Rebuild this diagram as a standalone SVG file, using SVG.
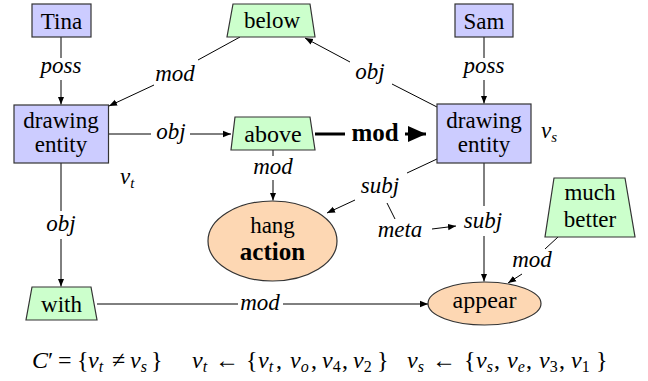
<svg xmlns="http://www.w3.org/2000/svg" width="648" height="381" viewBox="0 0 648 381">
<defs>
<style>
.box{fill:#ccccff;stroke:#333;stroke-width:1.2}
.trap{fill:#ccffcc;stroke:#333;stroke-width:1.2}
.ell{fill:#fdd7b3;stroke:#333;stroke-width:1.2}
.e{fill:none;stroke:#000;stroke-width:1}
.a{marker-end:url(#ar)}
.th{fill:none;stroke:#000;stroke-width:3}
</style>
<marker id="ar" viewBox="0 0 10 10" refX="10" refY="5" markerWidth="8" markerHeight="8" markerUnits="userSpaceOnUse" orient="auto"><path d="M0,1 L10,5 L0,9 z" fill="#000"/></marker>
<marker id="ar2" viewBox="0 0 10 10" refX="10" refY="5" markerWidth="6" markerHeight="6" orient="auto"><path d="M0,0.5 L10,5 L0,9.5 z" fill="#000"/></marker>
</defs>
<rect width="648" height="381" fill="#fff"/>
<g id="connectors">
<line class="e" x1="61" y1="37" x2="61" y2="58"/>
<line class="e a" x1="61" y1="80" x2="61" y2="104.5"/>
<line class="e" x1="484" y1="37" x2="484" y2="58"/>
<line class="e a" x1="484" y1="80" x2="484" y2="103.5"/>
<line class="e" x1="108.5" y1="134" x2="151" y2="134"/>
<line class="e a" x1="190" y1="134" x2="231" y2="134"/>
<line class="th" x1="315" y1="134" x2="345" y2="134"/>
<line class="th" x1="405" y1="134" x2="426" y2="134" marker-end="url(#ar2)"/>
<line class="e" x1="240" y1="37" x2="198" y2="60"/>
<line class="e a" x1="154" y1="85" x2="109" y2="106"/>
<line class="e" x1="437" y1="107" x2="392" y2="84"/>
<line class="e a" x1="350" y1="62" x2="305" y2="38"/>
<line class="e" x1="273" y1="150" x2="273" y2="156"/>
<line class="e a" x1="273" y1="180" x2="273" y2="200.5"/>
<line class="e" x1="61" y1="163" x2="61" y2="211"/>
<line class="e a" x1="61" y1="239" x2="61" y2="286.5"/>
<line class="e" x1="97" y1="304" x2="238" y2="304"/>
<line class="e a" x1="283" y1="304" x2="428" y2="304"/>
<line class="e" x1="484" y1="163" x2="484" y2="206"/>
<line class="e a" x1="484" y1="236" x2="484" y2="281.5"/>
<line class="e" x1="437" y1="159" x2="407" y2="173"/>
<line class="e a" x1="355" y1="200" x2="327" y2="213"/>
<line class="e" x1="387" y1="203" x2="395" y2="219"/>
<line class="e a" x1="432" y1="229" x2="456" y2="226"/>
<line class="e" x1="558" y1="237" x2="545" y2="249"/>
<line class="e a" x1="522" y1="274" x2="508" y2="283"/>
<g font-family="'Liberation Serif', serif" font-style="italic" font-size="23" text-anchor="middle" fill="#000">
<text x="61" y="73">poss</text>
<text x="484" y="73">poss</text>
<text x="171" y="139">obj</text>
<text x="175" y="81">mod</text>
<text x="370" y="79">obj</text>
<text x="273" y="174">mod</text>
<text x="61" y="231">obj</text>
<text x="260" y="310">mod</text>
<text x="483" y="228">subj</text>
<text x="380" y="193">subj</text>
<text x="400" y="237">meta</text>
<text x="532" y="267">mod</text>
<text x="120" y="184" text-anchor="start">v<tspan font-size="15" dy="4">t</tspan></text>
<text x="541" y="138" text-anchor="start">v<tspan font-size="15" dy="4">s</tspan></text>
</g>
<text x="375" y="141" font-family="'Liberation Serif', serif" font-weight="bold" font-size="25" text-anchor="middle">mod</text>
</g>

<g font-family="'Liberation Serif', serif" font-size="23" text-anchor="middle" fill="#000">
<g id="tina"><rect class="box" x="32" y="4" width="59" height="33"/><text x="61.5" y="29">Tina</text></g>
<g id="sam"><rect class="box" x="455" y="4" width="58" height="33"/><text x="484" y="29">Sam</text></g>
<g id="entity_t"><rect class="box" x="14" y="105" width="94.5" height="58"/><text x="61" y="128">drawing</text><text x="61" y="152">entity</text></g>
<g id="entity_s"><rect class="box" x="437" y="104" width="94" height="59"/><text x="484" y="128">drawing</text><text x="484" y="152">entity</text></g>
<g id="below"><polygon class="trap" points="233,4 310,4 315,37 227,37"/><text x="272" y="28">below</text></g>
<g id="above"><polygon class="trap" points="235,117 310,117 315,150 231,150"/><text x="273" y="142" font-size="24">above</text></g>
<g id="with"><polygon class="trap" points="32,287 91,287 97,320 26,320"/><text x="61.5" y="312">with</text></g>
<g id="much_better"><polygon class="trap" points="554,178 625,178 635,237 545,237"/><text x="590" y="200">much</text><text x="590" y="227">better</text></g>
<g id="hang_action"><ellipse class="ell" cx="272.5" cy="241" rx="64.5" ry="40"/><text x="272.5" y="233">hang</text><text x="272.5" y="260" font-weight="bold" font-size="25">action</text></g>
<g id="appear"><ellipse class="ell" cx="484.5" cy="303.5" rx="56.5" ry="21.5"/><text x="484.5" y="308" font-size="24">appear</text></g>
</g>

<g id="formula" font-family="'Liberation Serif', serif" font-size="24" fill="#000">
<text y="368"><tspan x="32" font-style="italic">C</tspan><tspan>′</tspan><tspan x="58">=</tspan><tspan x="77">{</tspan><tspan x="88" font-style="italic">v</tspan><tspan font-size="16" dy="4" font-style="italic">t</tspan><tspan x="112" dy="-4">≠</tspan><tspan x="130" font-style="italic">v</tspan><tspan font-size="16" dy="4" font-style="italic">s</tspan><tspan x="151" dy="-4">}</tspan></text>
<text y="368"><tspan x="192" font-style="italic">v</tspan><tspan font-size="16" dy="4" font-style="italic">t</tspan><tspan x="215" dy="-4">←</tspan><tspan x="246">{</tspan><tspan x="258" font-style="italic">v</tspan><tspan font-size="16" dy="4" font-style="italic">t</tspan><tspan x="276" dy="-4">,</tspan><tspan x="290" font-style="italic">v</tspan><tspan font-size="16" dy="4" font-style="italic">o</tspan><tspan x="311" dy="-4">,</tspan><tspan x="322" font-style="italic">v</tspan><tspan font-size="16" dy="4">4</tspan><tspan x="342" dy="-4">,</tspan><tspan x="353" font-style="italic">v</tspan><tspan font-size="16" dy="4">2</tspan><tspan x="377" dy="-4">}</tspan></text>
<text y="368"><tspan x="407" font-style="italic">v</tspan><tspan font-size="16" dy="4" font-style="italic">s</tspan><tspan x="432" dy="-4">←</tspan><tspan x="464">{</tspan><tspan x="476" font-style="italic">v</tspan><tspan font-size="16" dy="4" font-style="italic">s</tspan><tspan x="494" dy="-4">,</tspan><tspan x="507" font-style="italic">v</tspan><tspan font-size="16" dy="4" font-style="italic">e</tspan><tspan x="526" dy="-4">,</tspan><tspan x="539" font-style="italic">v</tspan><tspan font-size="16" dy="4">3</tspan><tspan x="559" dy="-4">,</tspan><tspan x="571" font-style="italic">v</tspan><tspan font-size="16" dy="4">1</tspan><tspan x="596" dy="-4">}</tspan></text>
</g>
</svg>
